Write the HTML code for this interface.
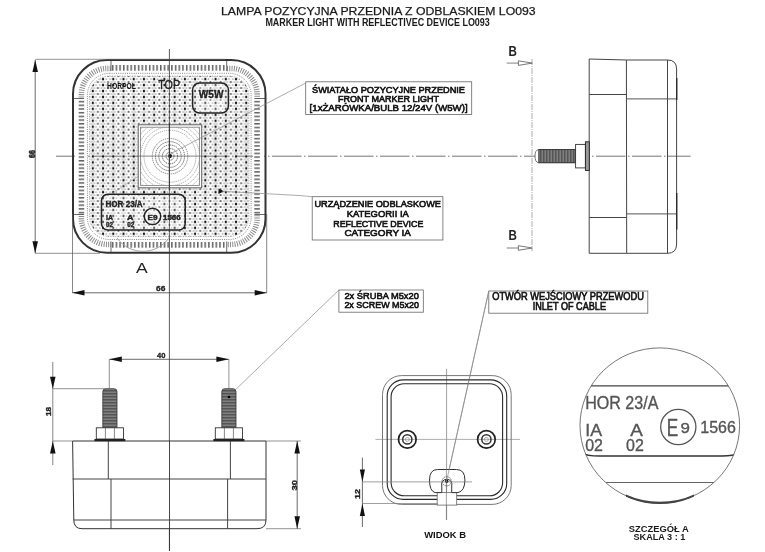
<!DOCTYPE html>
<html><head><meta charset="utf-8"><style>
html,body{margin:0;padding:0;background:#fff;width:765px;height:552px;overflow:hidden}
svg{will-change:transform}
svg{display:block;font-family:"Liberation Sans", sans-serif}
</style></head><body>
<svg width="765" height="552" viewBox="0 0 765 552">
<rect width="765" height="552" fill="#fff"/>
<defs>
<pattern id="dots" x="92.8" y="102.9" width="10.23" height="5.95" patternUnits="userSpaceOnUse">
 <rect x="-0.5" y="0" width="1" height="5.95" fill="#ccc"/>
 <rect x="9.73" y="0" width="1" height="5.95" fill="#ccc"/>
 <ellipse cx="0" cy="0" rx="1.15" ry="1.35" fill="#151515"/>
 <ellipse cx="10.23" cy="0" rx="1.15" ry="1.35" fill="#151515"/>
 <ellipse cx="0" cy="5.95" rx="1.15" ry="1.35" fill="#151515"/>
 <ellipse cx="10.23" cy="5.95" rx="1.15" ry="1.35" fill="#151515"/>
 <circle cx="5.1" cy="2.97" r="1.1" fill="#555"/>
 <circle cx="3.2" cy="0" r="0.85" fill="#999"/><circle cx="7.1" cy="0" r="0.85" fill="#999"/>
 <circle cx="3.2" cy="5.95" r="0.85" fill="#999"/><circle cx="7.1" cy="5.95" r="0.85" fill="#999"/>
 <circle cx="1.7" cy="2.97" r="0.85" fill="#aaa"/><circle cx="8.5" cy="2.97" r="0.85" fill="#aaa"/>
</pattern>
<pattern id="hatchV" x="0" y="0" width="3.7" height="10" patternUnits="userSpaceOnUse">
 <rect x="1" y="0" width="1.4" height="10" fill="#555"/>
</pattern>
<pattern id="hatchH" x="0" y="0" width="10" height="3.7" patternUnits="userSpaceOnUse">
 <rect x="0" y="1" width="10" height="1.4" fill="#555"/>
</pattern>
<pattern id="thread" x="0" y="0" width="1.5" height="1.5" patternUnits="userSpaceOnUse">
 <rect x="0" y="0" width="1.5" height="1.5" fill="#8a8a8a"/>
 <rect x="0" y="0" width="0.75" height="1.5" fill="#4a4a4a"/>
</pattern>
<pattern id="threadH" x="0" y="0" width="1.5" height="1.5" patternUnits="userSpaceOnUse">
 <rect x="0" y="0" width="1.5" height="1.5" fill="#8a8a8a"/>
 <rect x="0" y="0" width="1.5" height="0.75" fill="#4a4a4a"/>
</pattern>
</defs>
<text x="221" y="14.5" font-size="11.4" font-weight="normal" fill="#1a1a1a" text-anchor="start" textLength="314.6" lengthAdjust="spacingAndGlyphs" stroke="#1a1a1a" stroke-width="0.25">LAMPA POZYCYJNA PRZEDNIA Z ODBLASKIEM LO093</text>
<text x="265.4" y="26.1" font-size="10.6" font-weight="bold" fill="#1a1a1a" text-anchor="start" textLength="224.4" lengthAdjust="spacingAndGlyphs" >MARKER LIGHT WITH REFLECTIVEC DEVICE LO093</text>
<line x1="56" y1="156.2" x2="690.6" y2="156.2" stroke="#666" stroke-width="0.9" stroke-dasharray="29.5 2.5 1.5 2.5"/>
<rect x="112" y="65" width="114" height="5.7" fill="url(#hatchV)"/>
<rect x="112" y="242" width="114" height="5.7" fill="url(#hatchV)"/>
<rect x="78.7" y="99" width="5.5" height="115" fill="url(#hatchH)"/>
<rect x="254.3" y="99" width="5.5" height="115" fill="url(#hatchH)"/>
<rect x="81.4" y="68.4" width="175.7" height="176.0" rx="26" fill="none" stroke="#8a8a8a" stroke-width="5.5" stroke-dasharray="1 1.3"/>
<rect x="111" y="62" width="116" height="10" fill="#fff"/>
<rect x="111" y="241" width="116" height="10" fill="#fff"/>
<rect x="75" y="98.5" width="11" height="116" fill="#fff"/>
<rect x="253" y="98.5" width="11" height="116" fill="#fff"/>
<rect x="112" y="65" width="114" height="5.7" fill="url(#hatchV)"/>
<rect x="112" y="242" width="114" height="5.7" fill="url(#hatchV)"/>
<rect x="78.7" y="99" width="5.5" height="115" fill="url(#hatchH)"/>
<rect x="254.3" y="99" width="5.5" height="115" fill="url(#hatchH)"/>
<rect x="87.4" y="73.3" width="163.7" height="166.2" rx="22" fill="none" stroke="#666" stroke-width="0.8" stroke-dasharray="1 1.2"/>
<rect x="89.5" y="76" width="159.5" height="160.5" rx="20" fill="url(#dots)" stroke="#777" stroke-width="0.6" stroke-dasharray="1 1.5"/>
<line x1="111" y1="60" x2="111" y2="71" stroke="#444" stroke-width="0.8" />
<line x1="226.7" y1="60" x2="226.7" y2="71" stroke="#444" stroke-width="0.8" />
<line x1="111" y1="241.5" x2="111" y2="252.8" stroke="#444" stroke-width="0.8" />
<line x1="226.7" y1="241.5" x2="226.7" y2="252.8" stroke="#444" stroke-width="0.8" />
<line x1="73" y1="98.5" x2="84" y2="98.5" stroke="#444" stroke-width="0.8" />
<line x1="73" y1="214.5" x2="84" y2="214.5" stroke="#444" stroke-width="0.8" />
<line x1="254.5" y1="98.5" x2="265.5" y2="98.5" stroke="#444" stroke-width="0.8" />
<line x1="254.5" y1="214.5" x2="265.5" y2="214.5" stroke="#444" stroke-width="0.8" />
<rect x="73" y="60" width="192.5" height="192.8" rx="34" fill="none" stroke="#333" stroke-width="2"/>
<line x1="170" y1="156" x2="113" y2="192.7" stroke="#999" stroke-width="0.6" />
<defs><clipPath id="sq"><rect x="140" y="126.9" width="60" height="59"/></clipPath></defs>
<rect x="138.2" y="124.8" width="63.5" height="63" fill="#fff" stroke="#555" stroke-width="0.9"/>
<rect x="140.5" y="127.2" width="59" height="58.2" fill="none" stroke="#777" stroke-width="0.8"/>
<g clip-path="url(#sq)">
<circle cx="170" cy="156.2" r="26" fill="none" stroke="#999" stroke-width="0.9" stroke-dasharray="1.2 0.9"/>
<circle cx="170" cy="156.2" r="29.5" fill="none" stroke="#999" stroke-width="0.9" stroke-dasharray="1.2 0.9"/>
<circle cx="170" cy="156.2" r="33" fill="none" stroke="#999" stroke-width="0.9" stroke-dasharray="1.2 0.9"/>
<circle cx="170" cy="156.2" r="36.5" fill="none" stroke="#999" stroke-width="0.9" stroke-dasharray="1.2 0.9"/>
<circle cx="170" cy="156.2" r="40" fill="none" stroke="#999" stroke-width="0.9" stroke-dasharray="1.2 0.9"/>
</g>
<circle cx="170" cy="156.2" r="4" fill="none" stroke="#444" stroke-width="0.9" stroke-dasharray="1.3 0.8"/>
<circle cx="170" cy="156.2" r="7.6" fill="none" stroke="#444" stroke-width="0.9" stroke-dasharray="1.3 0.8"/>
<circle cx="170" cy="156.2" r="11.2" fill="none" stroke="#555" stroke-width="0.9" stroke-dasharray="1.3 0.8"/>
<circle cx="170" cy="156.2" r="14.5" fill="none" stroke="#555" stroke-width="0.9" stroke-dasharray="1.3 0.8"/>
<circle cx="170" cy="156.2" r="17.7" fill="none" stroke="#777" stroke-width="0.9" stroke-dasharray="1.3 0.8"/>
<circle cx="170.1" cy="156" r="1.9" fill="#000"/>
<line x1="169.4" y1="124" x2="169.4" y2="187.5" stroke="#222" stroke-width="0.8" />
<line x1="137" y1="156.1" x2="202" y2="156.1" stroke="#555" stroke-width="0.7" />
<rect x="192.6" y="83" width="35.8" height="30" rx="7" fill="#fff" fill-opacity="0.3" stroke="#222" stroke-width="1.5"/>
<text x="198.8" y="98" font-size="10.5" font-weight="bold" fill="#222" text-anchor="start" textLength="24.7" lengthAdjust="spacingAndGlyphs" stroke="#222" stroke-width="0.3">W5W</text>
<text x="107" y="89" font-size="8.2" font-weight="bold" fill="#111" text-anchor="start" textLength="29" lengthAdjust="spacingAndGlyphs" >HORPOL</text>
<text x="158.2" y="89" font-size="13" font-weight="normal" fill="#222" text-anchor="start" textLength="22" lengthAdjust="spacingAndGlyphs" stroke="#222" stroke-width="0.3">TOP</text>
<rect x="101.5" y="194.2" width="83.7" height="35.9" rx="6.5" fill="#fff" fill-opacity="0.3" stroke="#222" stroke-width="1.5"/>
<text x="105.5" y="206.6" font-size="9.8" font-weight="bold" fill="#222" text-anchor="start" textLength="37.2" lengthAdjust="spacingAndGlyphs" stroke="#222" stroke-width="0.4">HOR 23/A</text>
<text x="106" y="220" font-size="8" font-weight="bold" fill="#222" text-anchor="start" textLength="7" lengthAdjust="spacingAndGlyphs" stroke="#222" stroke-width="0.4">IA</text>
<text x="106" y="227" font-size="8" font-weight="bold" fill="#222" text-anchor="start" textLength="7" lengthAdjust="spacingAndGlyphs" stroke="#222" stroke-width="0.4">02</text>
<text x="127" y="220" font-size="8" font-weight="bold" fill="#222" text-anchor="start" textLength="6.5" lengthAdjust="spacingAndGlyphs" stroke="#222" stroke-width="0.4">A</text>
<text x="127.2" y="227" font-size="8" font-weight="bold" fill="#222" text-anchor="start" textLength="7" lengthAdjust="spacingAndGlyphs" stroke="#222" stroke-width="0.4">02</text>
<circle cx="152.5" cy="216.4" r="8.2" fill="#fff" fill-opacity="0.5" stroke="#222" stroke-width="1.5"/>
<text x="152.5" y="220.3" font-size="8" font-weight="bold" fill="#222" text-anchor="middle" textLength="10" lengthAdjust="spacingAndGlyphs" stroke="#222" stroke-width="0.4">E9</text>
<text x="163" y="219.5" font-size="7" font-weight="bold" fill="#222" text-anchor="start" textLength="17.6" lengthAdjust="spacingAndGlyphs" stroke="#222" stroke-width="0.4">1566</text>
<polygon points="218.5,188.5 224,191.3 218.5,194" fill="#111"/>
<line x1="169.4" y1="49" x2="169.4" y2="551" stroke="#333" stroke-width="0.8" />
<path d="M117,238 A32,32 0 0 0 169,238" fill="none" stroke="#999" stroke-width="0.9"/>
<line x1="35.2" y1="60" x2="35.2" y2="253.3" stroke="#444" stroke-width="0.8" />
<polygon points="35.2,60 37.962500000000006,72.0 32.4375,72.0" fill="#111"/>
<polygon points="35.2,253.3 32.4375,241.3 37.962500000000006,241.3" fill="#111"/>
<line x1="35.2" y1="59.3" x2="225" y2="59.3" stroke="#666" stroke-width="0.7" />
<line x1="35.2" y1="253.3" x2="100" y2="253.3" stroke="#666" stroke-width="0.7" />
<text x="0" y="0" font-size="8.5" font-weight="bold" fill="#222" stroke="#222" stroke-width="0.5" textLength="8" lengthAdjust="spacingAndGlyphs" transform="translate(34.5,158) rotate(-90)">66</text>
<line x1="72.5" y1="214" x2="72.5" y2="293" stroke="#555" stroke-width="0.7" />
<line x1="266.7" y1="214" x2="266.7" y2="293" stroke="#555" stroke-width="0.7" />
<line x1="72.5" y1="292.8" x2="266.7" y2="292.8" stroke="#444" stroke-width="0.8" />
<polygon points="72.5,292.8 84.5,290.0375 84.5,295.5625" fill="#111"/>
<polygon points="266.7,292.8 254.7,295.5625 254.7,290.0375" fill="#111"/>
<text x="156" y="291.3" font-size="7.5" font-weight="bold" fill="#222" text-anchor="start" textLength="9.3" lengthAdjust="spacingAndGlyphs" stroke="#222" stroke-width="0.3">66</text>
<text x="135.9" y="273" font-size="14" font-weight="normal" fill="#222" text-anchor="start" textLength="11.7" lengthAdjust="spacingAndGlyphs" >A</text>
<rect x="305.7" y="81.8" width="166" height="32.6" rx="0" ry="0" stroke="#666" stroke-width="0.8" fill="none" />
<text x="312" y="93.3" font-size="9.2" font-weight="normal" fill="#111" text-anchor="start" textLength="153" lengthAdjust="spacingAndGlyphs" stroke="#111" stroke-width="0.6">ŚWIATAŁO POZYCYJNE PRZEDNIE</text>
<text x="338" y="102" font-size="9.2" font-weight="normal" fill="#111" text-anchor="start" textLength="101" lengthAdjust="spacingAndGlyphs" stroke="#111" stroke-width="0.6">FRONT MARKER LIGHT</text>
<text x="309.6" y="111.4" font-size="9.4" font-weight="normal" fill="#111" text-anchor="start" textLength="158" lengthAdjust="spacingAndGlyphs" stroke="#111" stroke-width="0.6">[1xŻARÓWKA/BULB 12/24V (W5W)]</text>
<line x1="305.7" y1="83" x2="170" y2="154" stroke="#888" stroke-width="0.7" />
<rect x="312.2" y="196.7" width="130.7" height="43.3" rx="0" ry="0" stroke="#666" stroke-width="0.8" fill="none" />
<text x="314.4" y="206.7" font-size="9.4" font-weight="normal" fill="#111" text-anchor="start" textLength="126.6" lengthAdjust="spacingAndGlyphs" stroke="#111" stroke-width="0.6">URZĄDZENIE ODBLASKOWE</text>
<text x="346.7" y="216.7" font-size="9.4" font-weight="normal" fill="#111" text-anchor="start" textLength="62.2" lengthAdjust="spacingAndGlyphs" stroke="#111" stroke-width="0.6">KATEGORII IA</text>
<text x="333.3" y="226.7" font-size="9.4" font-weight="normal" fill="#111" text-anchor="start" textLength="90" lengthAdjust="spacingAndGlyphs" stroke="#111" stroke-width="0.6">REFLECTIVE DEVICE</text>
<text x="344.4" y="235.6" font-size="9.4" font-weight="normal" fill="#111" text-anchor="start" textLength="66.6" lengthAdjust="spacingAndGlyphs" stroke="#111" stroke-width="0.6">CATEGORY IA</text>
<polyline points="222,191.3 299,195.5 312.2,196.7" fill="none" stroke="#888" stroke-width="0.7"/>
<rect x="338.9" y="290" width="84.4" height="22.2" rx="0" ry="0" stroke="#666" stroke-width="0.8" fill="none" />
<text x="344.4" y="299" font-size="9.6" font-weight="normal" fill="#111" text-anchor="start" textLength="74.5" lengthAdjust="spacingAndGlyphs" stroke="#111" stroke-width="0.6">2x ŚRUBA M5x20</text>
<text x="344.4" y="308.3" font-size="9.6" font-weight="normal" fill="#111" text-anchor="start" textLength="74.5" lengthAdjust="spacingAndGlyphs" stroke="#111" stroke-width="0.6">2x SCREW M5x20</text>
<line x1="338.9" y1="290" x2="235.4" y2="389.8" stroke="#888" stroke-width="0.7" />
<rect x="488.8" y="291" width="159" height="22.2" rx="0" ry="0" stroke="#666" stroke-width="0.8" fill="none" />
<text x="492.2" y="299.9" font-size="10" font-weight="normal" fill="#111" text-anchor="start" textLength="151.7" lengthAdjust="spacingAndGlyphs" stroke="#111" stroke-width="0.6">OTWÓR WEJŚCIOWY PRZEWODU</text>
<text x="532.7" y="310" font-size="10" font-weight="normal" fill="#111" text-anchor="start" textLength="73.3" lengthAdjust="spacingAndGlyphs" stroke="#111" stroke-width="0.6">INLET OF CABLE</text>
<line x1="488.8" y1="291" x2="446.4" y2="481.9" stroke="#888" stroke-width="0.7" />
<text x="508.4" y="56" font-size="14.5" font-weight="bold" fill="#222" text-anchor="start" textLength="8.4" lengthAdjust="spacingAndGlyphs" >B</text>
<text x="508.4" y="239.6" font-size="14.5" font-weight="bold" fill="#222" text-anchor="start" textLength="8.4" lengthAdjust="spacingAndGlyphs" >B</text>
<line x1="532" y1="59" x2="532" y2="251" stroke="#999" stroke-width="0.8" stroke-dasharray="6 1 1 1"/>
<line x1="506.7" y1="63.1" x2="520" y2="63.1" stroke="#666" stroke-width="0.8" />
<polygon points="532.2,63.1 518.4,60.800000000000004 518.4,65.4" fill="#fff" stroke="#555" stroke-width="0.8"/>
<line x1="506.7" y1="248" x2="520" y2="248" stroke="#666" stroke-width="0.8" />
<polygon points="532.2,248 518.4,245.7 518.4,250.3" fill="#fff" stroke="#555" stroke-width="0.8"/>
<path d="M589.2,59 L626.4,60 L667.5,60 Q676.6,60 676.6,69 L676.6,244 Q676.6,253.3 667.5,253.3 L626.7,253.3 L589.2,253.3 Z" fill="none" stroke="#444" stroke-width="1"/>
<line x1="626.4" y1="60" x2="626.7" y2="253.3" stroke="#444" stroke-width="1" />
<line x1="667.5" y1="60" x2="667.5" y2="253.3" stroke="#444" stroke-width="1" />
<line x1="589.2" y1="94.5" x2="626.4" y2="94.5" stroke="#444" stroke-width="1" />
<line x1="626.4" y1="98.9" x2="676.6" y2="98.9" stroke="#555" stroke-width="1" />
<line x1="589.2" y1="217.5" x2="626.7" y2="217.5" stroke="#444" stroke-width="1" />
<line x1="626.7" y1="213.9" x2="676.6" y2="213.9" stroke="#555" stroke-width="1" />
<line x1="676.8" y1="78" x2="676.8" y2="100" stroke="#222" stroke-width="1.2" />
<line x1="676.8" y1="193" x2="676.8" y2="229.5" stroke="#222" stroke-width="1.2" />
<path d="M538.3,149.6 L575.6,149.6 L575.6,162.7 L538.3,162.7 Q535,162 535,156.1 Q535,150.3 538.3,149.6 Z" fill="#fff" stroke="#555" stroke-width="0.8"/>
<rect x="538.8" y="149.6" width="36.8" height="13.1" fill="url(#thread)" stroke="#333" stroke-width="0.9"/>
<rect x="575.6" y="144.4" width="9.8" height="23.5" fill="#fff" stroke="#333" stroke-width="0.9"/>
<rect x="585.4" y="141.8" width="3.9" height="28.7" fill="#999" stroke="#222" stroke-width="0.9"/>
<path d="M72.6,441 L266,441 L266,520 Q266,528.7 257,528.7 L82,528.7 Q73.8,528.7 73.8,520 L72.6,441 Z" fill="#fff" stroke="#333" stroke-width="1"/>
<line x1="72.6" y1="479" x2="266" y2="479" stroke="#444" stroke-width="1" />
<line x1="73.8" y1="520" x2="266" y2="520" stroke="#444" stroke-width="1" />
<line x1="108.3" y1="441" x2="108.3" y2="479" stroke="#444" stroke-width="1" />
<line x1="230.4" y1="441" x2="230.4" y2="479" stroke="#444" stroke-width="1" />
<line x1="111" y1="479" x2="111" y2="528.7" stroke="#444" stroke-width="1" />
<line x1="227.6" y1="479" x2="227.6" y2="528.7" stroke="#444" stroke-width="1" />
<line x1="169.5" y1="441" x2="169.5" y2="551" stroke="#333" stroke-width="0.9" />
<path d="M102.80000000000001,427.8 L102.80000000000001,391.5 Q102.80000000000001,388.7 105.9,388.7 L113.9,388.7 Q117.0,388.7 117.0,391.5 L117.0,427.8 Z" fill="url(#threadH)" stroke="#333" stroke-width="0.8"/>
<rect x="96.30000000000001" y="427.8" width="27.2" height="11.2" fill="#fff" stroke="#333" stroke-width="0.9"/>
<line x1="105.4" y1="427.8" x2="105.4" y2="439" stroke="#555" stroke-width="0.7" />
<line x1="114.4" y1="427.8" x2="114.4" y2="439" stroke="#555" stroke-width="0.7" />
<rect x="94.4" y="439" width="31" height="2.2" fill="#222"/>
<path d="M221.8,427.8 L221.8,391.5 Q221.8,388.7 224.9,388.7 L232.9,388.7 Q236.0,388.7 236.0,391.5 L236.0,427.8 Z" fill="url(#threadH)" stroke="#333" stroke-width="0.8"/>
<rect x="215.3" y="427.8" width="27.2" height="11.2" fill="#fff" stroke="#333" stroke-width="0.9"/>
<line x1="224.4" y1="427.8" x2="224.4" y2="439" stroke="#555" stroke-width="0.7" />
<line x1="233.4" y1="427.8" x2="233.4" y2="439" stroke="#555" stroke-width="0.7" />
<rect x="213.4" y="439" width="31" height="2.2" fill="#222"/>
<circle cx="229" cy="397" r="1.3" fill="#000"/>
<line x1="109.3" y1="359.3" x2="228.9" y2="359.3" stroke="#444" stroke-width="0.8" />
<polygon points="109.3,359.3 121.8,356.5375 121.8,362.0625" fill="#111"/>
<polygon points="228.9,359.3 216.4,362.0625 216.4,356.5375" fill="#111"/>
<line x1="109.3" y1="359.3" x2="109.3" y2="389" stroke="#666" stroke-width="0.7" />
<line x1="228.9" y1="359.3" x2="228.9" y2="389" stroke="#666" stroke-width="0.7" />
<text x="157" y="357.6" font-size="7.5" font-weight="bold" fill="#222" text-anchor="start" textLength="8.4" lengthAdjust="spacingAndGlyphs" stroke="#222" stroke-width="0.3">40</text>
<line x1="52.8" y1="362" x2="52.8" y2="465" stroke="#666" stroke-width="0.8" />
<polygon points="52.8,388.7 50.037499999999994,376.7 55.5625,376.7" fill="#111"/>
<polygon points="52.8,441 55.5625,453.5 50.037499999999994,453.5" fill="#111"/>
<line x1="52.8" y1="388.7" x2="105" y2="388.7" stroke="#666" stroke-width="0.7" />
<line x1="52.8" y1="441" x2="72.6" y2="441" stroke="#666" stroke-width="0.7" />
<text x="0" y="0" font-size="7.5" font-weight="bold" fill="#222" stroke="#222" stroke-width="0.35" textLength="9" lengthAdjust="spacingAndGlyphs" transform="translate(51.2,416) rotate(-90)">18</text>
<line x1="266" y1="441" x2="301" y2="441" stroke="#666" stroke-width="0.7" />
<line x1="266" y1="528.7" x2="301" y2="528.7" stroke="#666" stroke-width="0.7" />
<line x1="297.2" y1="441" x2="297.2" y2="528.7" stroke="#444" stroke-width="0.8" />
<polygon points="297.2,441 299.9625,453.5 294.4375,453.5" fill="#111"/>
<polygon points="297.2,528.7 294.4375,516.2 299.9625,516.2" fill="#111"/>
<text x="0" y="0" font-size="7.5" font-weight="bold" fill="#222" stroke="#222" stroke-width="0.35" textLength="10.5" lengthAdjust="spacingAndGlyphs" transform="translate(296.8,490.6) rotate(-90)">30</text>
<line x1="446.6" y1="368.7" x2="446.6" y2="520" stroke="#888" stroke-width="0.8" />
<line x1="375.4" y1="439.4" x2="520" y2="439.4" stroke="#999" stroke-width="0.8" />
<rect x="382.5" y="375.6" width="128.7" height="128.8" rx="19" fill="none" stroke="#777" stroke-width="1"/>
<rect x="387.2" y="379.9" width="119.5" height="119.5" rx="16" fill="none" stroke="#2a2a2a" stroke-width="1.1"/>
<rect x="391.1" y="383.8" width="111.5" height="112" rx="13" fill="none" stroke="#2a2a2a" stroke-width="1.1"/>
<circle cx="407.3" cy="439.4" r="8.8" fill="none" stroke="#222" stroke-width="1.7"/>
<circle cx="407.3" cy="439.4" r="4.6" fill="none" stroke="#333" stroke-width="1.5"/>
<circle cx="407.3" cy="439.4" r="2" fill="none" stroke="#888" stroke-width="0.7"/>
<circle cx="486.4" cy="439.4" r="8.8" fill="none" stroke="#222" stroke-width="1.7"/>
<circle cx="486.4" cy="439.4" r="4.6" fill="none" stroke="#333" stroke-width="1.5"/>
<circle cx="486.4" cy="439.4" r="2" fill="none" stroke="#888" stroke-width="0.7"/>
<rect x="437.2" y="492.6" width="19.5" height="12.5" fill="#fff" stroke="#666" stroke-width="0.8"/>
<path d="M441.8,492.6 L435,492.6 Q429.5,491 429.5,480 Q429.5,469.5 437.5,469.5 L456.5,469.5 Q464.9,469.5 464.9,480 Q464.9,491 458,492.6 L451.7,492.6 L451.7,486 A5.2,5.2 0 1 0 441.8,486 Z" fill="#fff" stroke="#333" stroke-width="1"/>
<circle cx="446.7" cy="481.3" r="4.6" fill="none" stroke="#555" stroke-width="1" stroke-dasharray="1.2 0.8"/>
<circle cx="446.7" cy="481.3" r="1.7" fill="#000"/>
<line x1="446.4" y1="469" x2="446.4" y2="520" stroke="#666" stroke-width="0.6" />
<line x1="488.8" y1="291" x2="446.4" y2="481.9" stroke="#888" stroke-width="0.7" />
<line x1="362.4" y1="457.6" x2="362.4" y2="527" stroke="#444" stroke-width="0.8" />
<polygon points="362.4,481.9 359.84999999999997,469.4 364.95,469.4" fill="#111"/>
<polygon points="362.4,503.5 364.95,516.0 359.84999999999997,516.0" fill="#111"/>
<line x1="362.4" y1="481.9" x2="472" y2="481.9" stroke="#777" stroke-width="0.7" />
<line x1="362.4" y1="503.5" x2="437.6" y2="503.5" stroke="#777" stroke-width="0.7" />
<text x="0" y="0" font-size="7.5" font-weight="bold" fill="#222" stroke="#222" stroke-width="0.35" textLength="10" lengthAdjust="spacingAndGlyphs" transform="translate(360.3,499) rotate(-90)">12</text>
<text x="424.2" y="537.5" font-size="9.5" font-weight="bold" fill="#111" text-anchor="start" textLength="41.8" lengthAdjust="spacingAndGlyphs" >WIDOK B</text>
<defs><clipPath id="cA"><ellipse cx="659.8" cy="425.5" rx="79.8" ry="77.6"/></clipPath></defs>
<ellipse cx="659.8" cy="425.5" rx="79.8" ry="77.6" fill="#fff" stroke="#777" stroke-width="1"/>
<g clip-path="url(#cA)">
<line x1="560" y1="385.8" x2="760" y2="385.8" stroke="#444" stroke-width="1.2" />
<path d="M580,452 Q586,456 600,456 L722,456 Q735,456 742,452" fill="none" stroke="#333" stroke-width="1.5"/>
<line x1="560" y1="482.5" x2="760" y2="482.5" stroke="#666" stroke-width="1.2" />
</g>
<defs><clipPath id="cB"><rect x="626" y="494" width="68" height="12"/></clipPath></defs>
<ellipse cx="659.8" cy="425.5" rx="79.8" ry="77.3" fill="none" stroke="#444" stroke-width="2.2" clip-path="url(#cB)"/>
<text x="585.2" y="408.8" font-size="18" font-weight="normal" fill="#555" text-anchor="start" textLength="73.2" lengthAdjust="spacingAndGlyphs" stroke="#555" stroke-width="0.35">HOR 23/A</text>
<text x="585.2" y="436.3" font-size="17" font-weight="normal" fill="#555" text-anchor="start" textLength="16.8" lengthAdjust="spacingAndGlyphs" stroke="#555" stroke-width="0.35">IA</text>
<text x="585.2" y="451" font-size="17" font-weight="normal" fill="#555" text-anchor="start" textLength="17.8" lengthAdjust="spacingAndGlyphs" stroke="#555" stroke-width="0.35">02</text>
<text x="630.2" y="436.3" font-size="17" font-weight="normal" fill="#555" text-anchor="start" textLength="12.6" lengthAdjust="spacingAndGlyphs" stroke="#555" stroke-width="0.35">A</text>
<text x="626" y="451" font-size="17" font-weight="normal" fill="#555" text-anchor="start" textLength="17.8" lengthAdjust="spacingAndGlyphs" stroke="#555" stroke-width="0.35">02</text>
<circle cx="678.3" cy="427" r="17.6" fill="none" stroke="#555" stroke-width="1.3"/>
<text x="666.8" y="436.4" font-size="24.4" font-weight="normal" fill="#555" text-anchor="start" textLength="11.5" lengthAdjust="spacingAndGlyphs" stroke="#555" stroke-width="0.35">E</text>
<text x="680.4" y="433.3" font-size="14.3" font-weight="normal" fill="#555" text-anchor="start" textLength="9.4" lengthAdjust="spacingAndGlyphs" stroke="#555" stroke-width="0.35">9</text>
<text x="700.3" y="433.3" font-size="17" font-weight="normal" fill="#555" text-anchor="start" textLength="35.6" lengthAdjust="spacingAndGlyphs" stroke="#555" stroke-width="0.35">1566</text>
<text x="628.8" y="531.8" font-size="8.4" font-weight="bold" fill="#1a1a1a" text-anchor="start" textLength="60" lengthAdjust="spacingAndGlyphs" >SZCZEGÓŁ A</text>
<text x="633.5" y="540.3" font-size="8.4" font-weight="bold" fill="#1a1a1a" text-anchor="start" textLength="51.8" lengthAdjust="spacingAndGlyphs" >SKALA 3 : 1</text>
</svg></body></html>
